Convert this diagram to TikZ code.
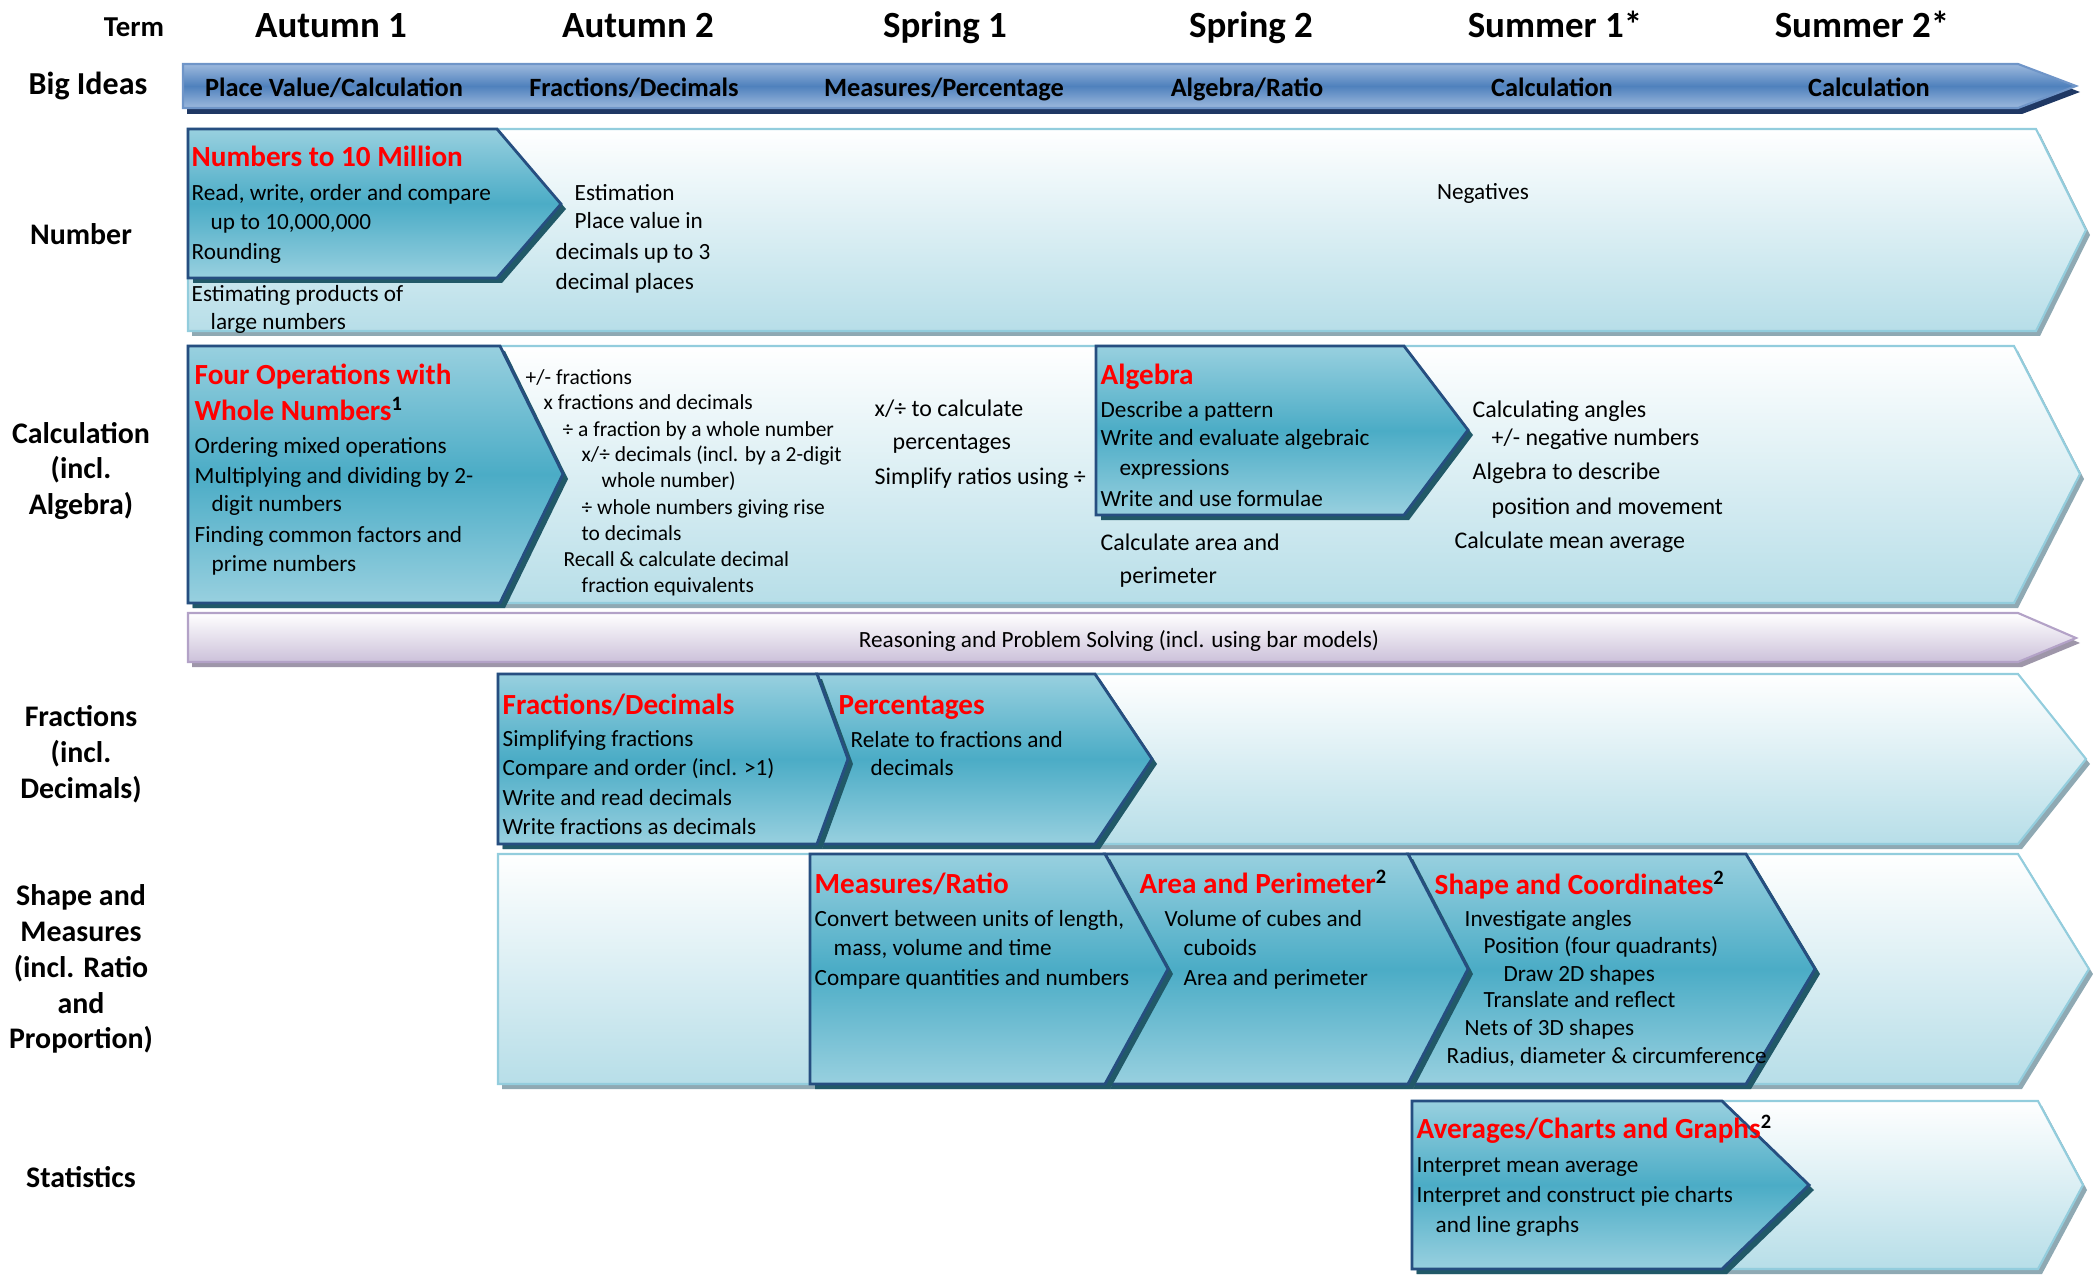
\documentclass[tikz,border=0pt]{standalone}
\usepackage{fontspec}
\setmainfont{Carlito}
\definecolor{bgbot}{HTML}{B7DEE8}
\definecolor{bgline}{HTML}{93CDDD}
\definecolor{bgshadow}{HTML}{8FA9B3}
\definecolor{dkmid}{HTML}{4BACC6}
\definecolor{dklight}{HTML}{98D0DF}
\definecolor{dkline}{HTML}{264E80}
\definecolor{dkshadow}{HTML}{215968}
\definecolor{bilight}{HTML}{9DB9DD}
\definecolor{bimid}{HTML}{4F81BD}
\definecolor{biline}{HTML}{6F95C8}
\definecolor{bishadow}{HTML}{1F3864}
\definecolor{rsbot}{HTML}{CCC1DA}
\definecolor{rsline}{HTML}{B3A2C7}
\definecolor{rsshadow}{HTML}{9E96A9}
\definecolor{headred}{HTML}{FF0000}
\newcounter{tn}
\newcommand\tl[4][body]{\stepcounter{tn}\edef\tname{t\arabic{tn}}\node[#1] (\tname) at (#2,#3) {#4};}
\newcommand\shapewithshadow[3]{\fill[#2] #3; \shadedraw[#1] #3;}
\newcommand\supb[1]{\textsuperscript{\textcolor{black}{#1}}}
\begin{document}
\begin{tikzpicture}[x=0.01cm,y=-0.01cm,
  bgarrow/.style={top color=white, bottom color=bgbot, draw=bgline, line width=0.6pt},
  bgshad/.style={bgshadow, shift={(4,5)}},
  dkarrow/.style={top color=dklight, bottom color=dklight, middle color=dkmid, draw=dkline, line width=0.8pt, line join=miter},
  dkshad/.style={dkshadow, shift={(5,5)}},
  biarrow/.style={top color=bilight, bottom color=bilight, middle color=bimid, draw=biline, line width=0.6pt},
  bishad/.style={bishadow, shift={(4,6)}},
  rsarrow/.style={top color=white, bottom color=rsbot, draw=rsline, line width=0.6pt},
  rsshad/.style={rsshadow, shift={(4,5)}},
  body/.style={anchor=west, inner sep=0pt, font=\fontsize{6.6}{8}\selectfont, text height=0.72em, text depth=0.2em},
  small/.style={body, font=\fontsize{6.1}{7.5}\selectfont},
  mid/.style={body, font=\fontsize{6.8}{8}\selectfont},
  head/.style={body, font=\fontsize{8.3}{10}\selectfont\bfseries, text=headred},
  term/.style={inner sep=0pt, font=\fontsize{10.5}{12}\selectfont\bfseries, text height=0.72em, text depth=0.2em},
  rowlab/.style={inner sep=0pt, align=center, font=\fontsize{8.5}{10.2}\selectfont\bfseries},
  bitext/.style={inner sep=0pt, font=\fontsize{7.5}{9}\selectfont\bfseries, text height=0.72em, text depth=0.2em}
]
\useasboundingbox (0,0) rectangle (2093,1276);
\clip (0,0) rectangle (2093,1276);

% ---------- header ----------
\node[term, font=\fontsize{8.2}{10}\selectfont\bfseries] (hterm) at (134,27) {Term};
\node[term] (ha1) at (331,28) {Autumn 1};
\node[term] (ha2) at (638,28) {Autumn 2};
\node[term] (hs1) at (945,28) {Spring 1};
\node[term] (hs2) at (1251,28) {Spring 2};
\node[term] (hu1) at (1555,28) {Summer 1*};
\node[term] (hu2) at (1862,28) {Summer 2*};

% ---------- row labels ----------
\node[rowlab, font=\fontsize{9.1}{11}\selectfont\bfseries] (lbig) at (88,86) {Big Ideas};
\node[rowlab] (lnum) at (81,234) {Number};
\node[rowlab] (lcalc) at (81,471) {Calculation\\(incl.\\Algebra)};
\node[rowlab] (lfrac) at (81,754) {Fractions\\(incl.\\Decimals)};
\node[rowlab] (lshape) at (81,969) {Shape and\\Measures\\(incl. Ratio\\and\\Proportion)};
\node[rowlab] (lstat) at (81,1177) {Statistics};

% ---------- big ideas arrow ----------
\shapewithshadow{biarrow}{bishad}{(183,64) -- (2018,64) -- (2076,86) -- (2018,108) -- (183,108) -- cycle}
\node[bitext] (b1) at (334,87) {Place Value/Calculation};
\node[bitext] (b2) at (634,87) {Fractions/Decimals};
\node[bitext] (b3) at (944,87) {Measures/Percentage};
\node[bitext] (b4) at (1247,87) {Algebra/Ratio};
\node[bitext] (b5) at (1552,87) {Calculation};
\node[bitext] (b6) at (1869,87) {Calculation};

% ---------- background arrows ----------
\shapewithshadow{bgarrow}{bgshad}{(188,129) -- (2036,129) -- (2086,230) -- (2036,331) -- (188,331) -- cycle}
\shapewithshadow{bgarrow}{bgshad}{(188,346) -- (2014,346) -- (2080,474) -- (2014,603) -- (188,603) -- cycle}
\shapewithshadow{rsarrow}{rsshad}{(188,613) -- (2018,613) -- (2076,638) -- (2018,662) -- (188,662) -- cycle}
\shapewithshadow{bgarrow}{bgshad}{(498,674) -- (2018,674) -- (2086,759) -- (2018,844) -- (498,844) -- cycle}
\shapewithshadow{bgarrow}{bgshad}{(498,854) -- (2018,854) -- (2089,969) -- (2018,1084) -- (498,1084) -- cycle}
\shapewithshadow{bgarrow}{bgshad}{(1412,1101) -- (2038,1101) -- (2083,1185) -- (2038,1269) -- (1412,1269) -- cycle}

% ---------- dark chevrons ----------
\shapewithshadow{dkarrow}{dkshad}{(188,129) -- (497,129) -- (561,204) -- (497,278) -- (188,278) -- cycle}
\shapewithshadow{dkarrow}{dkshad}{(188,346) -- (500,346) -- (563,474) -- (500,603) -- (188,603) -- cycle}
\shapewithshadow{dkarrow}{dkshad}{(1096,346) -- (1404,346) -- (1468,430) -- (1404,515) -- (1096,515) -- cycle}
\shapewithshadow{dkarrow}{dkshad}{(817,674) -- (1095,674) -- (1152,759) -- (1095,844) -- (817,844) -- (848,759) -- cycle}
\shapewithshadow{dkarrow}{dkshad}{(498,674) -- (817,674) -- (848,759) -- (817,844) -- (498,844) -- cycle}
\shapewithshadow{dkarrow}{dkshad}{(1408,854) -- (1746,854) -- (1815,969) -- (1746,1084) -- (1408,1084) -- (1468,969) -- cycle}
\shapewithshadow{dkarrow}{dkshad}{(1105,854) -- (1408,854) -- (1468,969) -- (1408,1084) -- (1105,1084) -- (1168,969) -- cycle}
\shapewithshadow{dkarrow}{dkshad}{(810,854) -- (1105,854) -- (1168,969) -- (1105,1084) -- (810,1084) -- cycle}
\shapewithshadow{dkarrow}{dkshad}{(1412,1101) -- (1722,1101) -- (1809,1185) -- (1722,1269) -- (1412,1269) -- cycle}

% ---------- Number row text ----------
\tl[head]{191}{157}{Numbers to 10 Million}
\tl{191}{191}{Read, write, order and compare}
\tl{210}{220}{up to 10,000,000}
\tl{191}{250}{Rounding}
\tl{191}{292}{Estimating products of}
\tl{210}{320}{large numbers}
\tl{574}{191}{Estimation}
\tl{574}{219}{Place value in}
\tl{555}{250}{decimals up to 3}
\tl{555}{280}{decimal places}
\tl[body,anchor=center]{1483}{190}{Negatives}

% ---------- Calculation row text ----------
\tl[head]{194}{375}{Four Operations with}
\tl[head]{194}{411}{Whole Numbers\supb{1}}
\tl{194}{444}{Ordering mixed operations}
\tl{194}{474}{Multiplying and dividing by 2-}
\tl{211}{502}{digit numbers}
\tl{194}{533}{Finding common factors and}
\tl{211}{562}{prime numbers}
\tl[small]{525}{375}{+/- fractions}
\tl[small]{543}{400}{x fractions and decimals}
\tl[small]{562}{427}{÷ a fraction by a whole number}
\tl[small]{581}{452}{x/÷ decimals (incl. by a 2-digit}
\tl[small]{601}{478}{whole number)}
\tl[small]{581}{505}{÷ whole numbers giving rise}
\tl[small]{581}{531}{to decimals}
\tl[small]{563}{557}{Recall \& calculate decimal}
\tl[small]{581}{583}{fraction equivalents}
\tl[mid]{874}{407}{x/÷ to calculate}
\tl[mid]{892}{440}{percentages}
\tl[mid]{874}{475}{Simplify ratios using ÷}
\tl[head]{1100}{375}{Algebra}
\tl{1100}{408}{Describe a pattern}
\tl{1100}{436}{Write and evaluate algebraic}
\tl{1119}{466}{expressions}
\tl{1100}{497}{Write and use formulae}
\tl[mid]{1100}{541}{Calculate area and}
\tl[mid]{1119}{574}{perimeter}
\tl[mid]{1472}{408}{Calculating angles}
\tl[mid]{1491}{436}{+/- negative numbers}
\tl[mid]{1472}{470}{Algebra to describe}
\tl[mid]{1491}{505}{position and movement}
\tl[mid]{1454}{539}{Calculate mean average}

% ---------- Reasoning ----------
\tl[body,anchor=center]{1119}{638}{Reasoning and Problem Solving (incl. using bar models)}

% ---------- Fractions row text ----------
\tl[head]{502}{705}{Fractions/Decimals}
\tl{502}{737}{Simplifying fractions}
\tl{502}{766}{Compare and order (incl. >1)}
\tl{502}{796}{Write and read decimals}
\tl{502}{825}{Write fractions as decimals}
\tl[head]{838}{705}{Percentages}
\tl{850}{738}{Relate to fractions and}
\tl{870}{766}{decimals}

% ---------- Shape row text ----------
\tl[head]{814}{884}{Measures/Ratio}
\tl{814}{917}{Convert between units of length,}
\tl{833}{946}{mass, volume and time}
\tl{814}{976}{Compare quantities and numbers}
\tl[head]{1139}{884}{Area and Perimeter\supb{2}}
\tl{1164}{917}{Volume of cubes and}
\tl{1183}{946}{cuboids}
\tl{1183}{976}{Area and perimeter}
\tl[head]{1434}{885}{Shape and Coordinates\supb{2}}
\tl{1464}{917}{Investigate angles}
\tl{1483}{944}{Position (four quadrants)}
\tl{1503}{972}{Draw 2D shapes}
\tl{1483}{998}{Translate and reflect}
\tl{1464}{1026}{Nets of 3D shapes}
\tl{1446}{1054}{Radius, diameter \& circumference}

% ---------- Statistics row text ----------
\tl[head]{1416}{1129}{Averages/Charts and Graphs\supb{2}}
\tl{1416}{1163}{Interpret mean average}
\tl{1416}{1193}{Interpret and construct pie charts}
\tl{1435}{1223}{and line graphs}
\end{tikzpicture}
\end{document}
